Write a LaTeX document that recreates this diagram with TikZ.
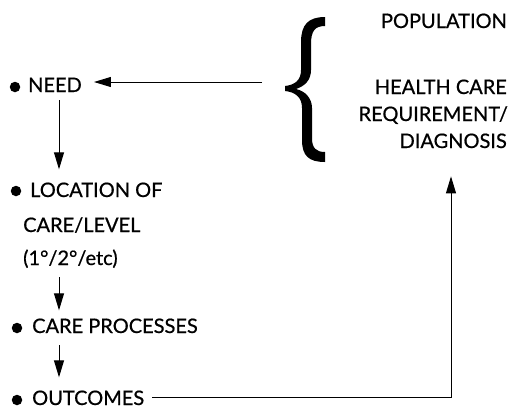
\documentclass[tikz,border=0pt]{standalone}
\usepackage{fontspec}
\setmainfont{Lato}[FakeBold=0.6]
\usetikzlibrary{arrows.meta}
\begin{document}
\begin{tikzpicture}[x=1pt,y=-1pt,
  txt/.style={font=\fontsize{20}{24}\selectfont, inner sep=0pt},
  arr/.style={-{Triangle[length=17pt,width=10pt]}, line width=1pt},
  dot/.style={circle, fill, inner sep=0pt, minimum size=10.5pt}]
\useasboundingbox (0,0) rectangle (510,408);
% right column
\node[txt, anchor=base east] (pop)   at (507,28)  {POPULATION};
\node[txt, anchor=base east] (hcare) at (507,94)  {HEALTH CARE};
\node[txt, anchor=base east] (req)   at (508,121) {REQUIREMENT/};
\node[txt, anchor=base east] (diag)  at (507,148) {DIAGNOSIS};
% brace
\fill (325,17) .. controls (308,17) and (301,25) .. (301,42) -- (301,70)
  .. controls (301,80) and (295,85) .. (285,86) -- (285,91)
  .. controls (295,92) and (302,97) .. (302,108) -- (302,140)
  .. controls (302,156) and (309,162) .. (325,162) -- (325,152)
  .. controls (316,152) and (312,148) .. (312,138) -- (312,108)
  .. controls (312,98) and (305,91) .. (296,89)
  .. controls (305,86) and (311,80) .. (311,70) -- (311,44)
  .. controls (311,31) and (315,26) .. (325,26) -- cycle;
% left column
\node[txt, anchor=base west] (need) at (28,92)  {NEED};
\node[txt, anchor=base west] (loc)  at (30,197) {LOCATION OF};
\node[txt, anchor=base west] (loc2) at (23,232) {CARE/LEVEL};
\node[txt, anchor=base west] (loc3) at (23,265) {(1°/2°/etc)};
\node[txt, anchor=base west] (proc) at (32,333) {CARE PROCESSES};
\node[txt, anchor=base west] (out)  at (32,405) {OUTCOMES};
% bullets
\node[dot] (b1) at (15,87)  {};
\node[dot] (b2) at (16,191) {};
\node[dot] (b3) at (17,328) {};
\node[dot] (b4) at (17,400) {};
% connectors
\coordinate (src) at (262,82);
\coordinate (col) at (59,0);
\coordinate (corner) at (451,397);
\draw[arr, shorten >=12pt] (src) -- (src -| need.east);
\draw[arr, shorten <=8pt, shorten >=13pt] (need.south -| col) -- (loc.north -| col);
\draw[arr, shorten <=9pt, shorten >=8pt] (loc3.south -| col) -- (proc.north -| col);
\draw[arr, shorten <=12pt, shorten >=13pt] (proc.south -| col) -- (out.north -| col);
\draw[arr, shorten >=28pt] ([xshift=8pt]out.east |- corner) -- (corner) -- (diag.south -| corner);
\end{tikzpicture}
\end{document}
